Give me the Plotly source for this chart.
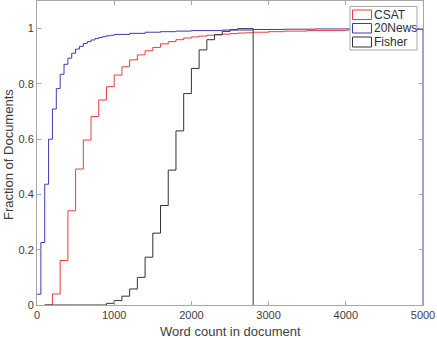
import plotly.graph_objects as go

# ---- data (bin left edges and cumulative fraction per bin) ----
news_edges = [0, 50, 100, 150, 200, 250, 300, 350, 400, 450, 500, 550, 600, 650, 700, 750,
              800, 850, 900, 950, 1000, 1200, 1400, 1600, 1800, 2000, 2400, 2800, 3200, 3600,
              4000, 4500, 5000]
news_cdf = [0.039, 0.226, 0.437, 0.600, 0.709, 0.783, 0.835, 0.871, 0.893, 0.911, 0.926,
            0.936, 0.946, 0.953, 0.959, 0.964, 0.968, 0.971, 0.974, 0.976, 0.979, 0.983,
            0.987, 0.989, 0.991, 0.993, 0.995, 0.997, 0.998, 0.999, 0.999, 1.0]

csat_edges = [100, 200, 300, 400, 500, 600, 700, 800, 900, 1000, 1100, 1200, 1300, 1400,
              1500, 1600, 1700, 1800, 1900, 2000, 2100, 2200, 2300, 2400, 2500, 2600, 2700,
              2800, 3000, 3200, 3500, 4000, 4500, 5000]
csat_cdf = [0.0, 0.040, 0.161, 0.341, 0.492, 0.597, 0.682, 0.742, 0.790, 0.832, 0.862,
            0.887, 0.905, 0.920, 0.932, 0.945, 0.953, 0.960, 0.966, 0.970, 0.973, 0.976,
            0.978, 0.980, 0.982, 0.984, 0.985, 0.987, 0.989, 0.991, 0.993, 0.995, 0.997]

fisher_edges = [100, 900, 1000, 1100, 1200, 1300, 1400, 1500, 1600, 1700, 1800, 1900, 2000,
                2100, 2200, 2300, 2400, 2500, 2600, 2800]
fisher_cdf = [0.0, 0.006, 0.016, 0.032, 0.058, 0.100, 0.173, 0.260, 0.360, 0.488, 0.630,
              0.765, 0.856, 0.923, 0.960, 0.978, 0.990, 0.996, 1.0]

x_ticks = [0, 1000, 2000, 3000, 4000, 5000]
y_ticks = [0, 0.2, 0.4, 0.6, 0.8, 1]
y_tick_labels = ["0", "0.2", "0.4", "0.6", "0.8", "1"]

series = [
    ("CSAT", csat_edges, csat_cdf, "#f03c3c", False),
    ("20News", news_edges, news_cdf, "#3c3cb4", True),
    ("Fisher", fisher_edges, fisher_cdf, "#333333", True),
]

fig = go.Figure()
for name, edges, vals, color, drop in series:
    xs = list(edges)
    ys = list(vals) + [vals[-1]]
    if drop:
        xs.append(edges[-1])
        ys.append(0)
    fig.add_trace(go.Scatter(x=xs, y=ys, mode="lines", line=dict(color=color, width=1, shape="hv"),
                             name=name, showlegend=False, cliponaxis=True, hoverinfo="skip"))

W, H = 437, 338
L, R, T, B = 37, 14, 1, 33
pw, ph = W - L - R, H - T - B
FONT = "Liberation Sans, Arial, sans-serif"


def px(x):
    return (x - L) / pw


def py(y):
    return (H - B - y) / ph


shapes = [dict(type="rect", xref="paper", yref="paper", x0=px(350), x1=px(417), y0=py(50), y1=py(6.5),
               line=dict(color="#a8a8a8", width=1), fillcolor="white", layer="above")]
annotations = []
rows = [(10, 19.5), (23.5, 33), (37, 47)]
for (name, _, _, color, _), (y0, y1) in zip(series, rows):
    shapes.append(dict(type="rect", xref="paper", yref="paper", x0=px(352.5), x1=px(371.5),
                       y0=py(y1), y1=py(y0), line=dict(color=color, width=1), layer="above"))
    annotations.append(dict(xref="paper", yref="paper", x=px(372), y=py((y0 + y1) / 2),
                            text=name, showarrow=False, xanchor="left", yanchor="middle",
                            font=dict(size=12, color="#303030", family=FONT)))

# axis titles as annotations for exact placement
annotations.append(dict(xref="paper", yref="paper", x=px(230), y=py(331), text="Word count in document",
                        showarrow=False, xanchor="center", yanchor="middle",
                        font=dict(size=13, color="#404040", family=FONT)))
annotations.append(dict(xref="paper", yref="paper", x=px(8), y=py(155), text="Fraction of Documents",
                        showarrow=False, xanchor="center", yanchor="middle", textangle=-90,
                        font=dict(size=13, color="#404040", family=FONT)))

axis_common = dict(showline=True, linecolor="#a8a8a8", linewidth=1, mirror="ticks", ticks="inside",
                   ticklen=4, tickcolor="#a8a8a8", showgrid=False, zeroline=False, automargin=False,
                   tickfont=dict(size=11, color="#404040", family=FONT))

fig.update_layout(
    width=W, height=H,
    margin=dict(l=L, r=R, t=T, b=B, autoexpand=False),
    paper_bgcolor="white", plot_bgcolor="white",
    shapes=shapes, annotations=annotations,
    hovermode=False,
    xaxis=dict(range=[0, 5000], tickvals=x_ticks, ticktext=[str(v) for v in x_ticks], **axis_common),
    yaxis=dict(range=[0, 1.1], tickvals=y_ticks, ticktext=y_tick_labels, **axis_common),
)

fig.write_html("out.html", config={"displayModeBar": False, "staticPlot": True},
               post_script="document.body.style.margin='0';document.body.style.overflow='hidden';")
